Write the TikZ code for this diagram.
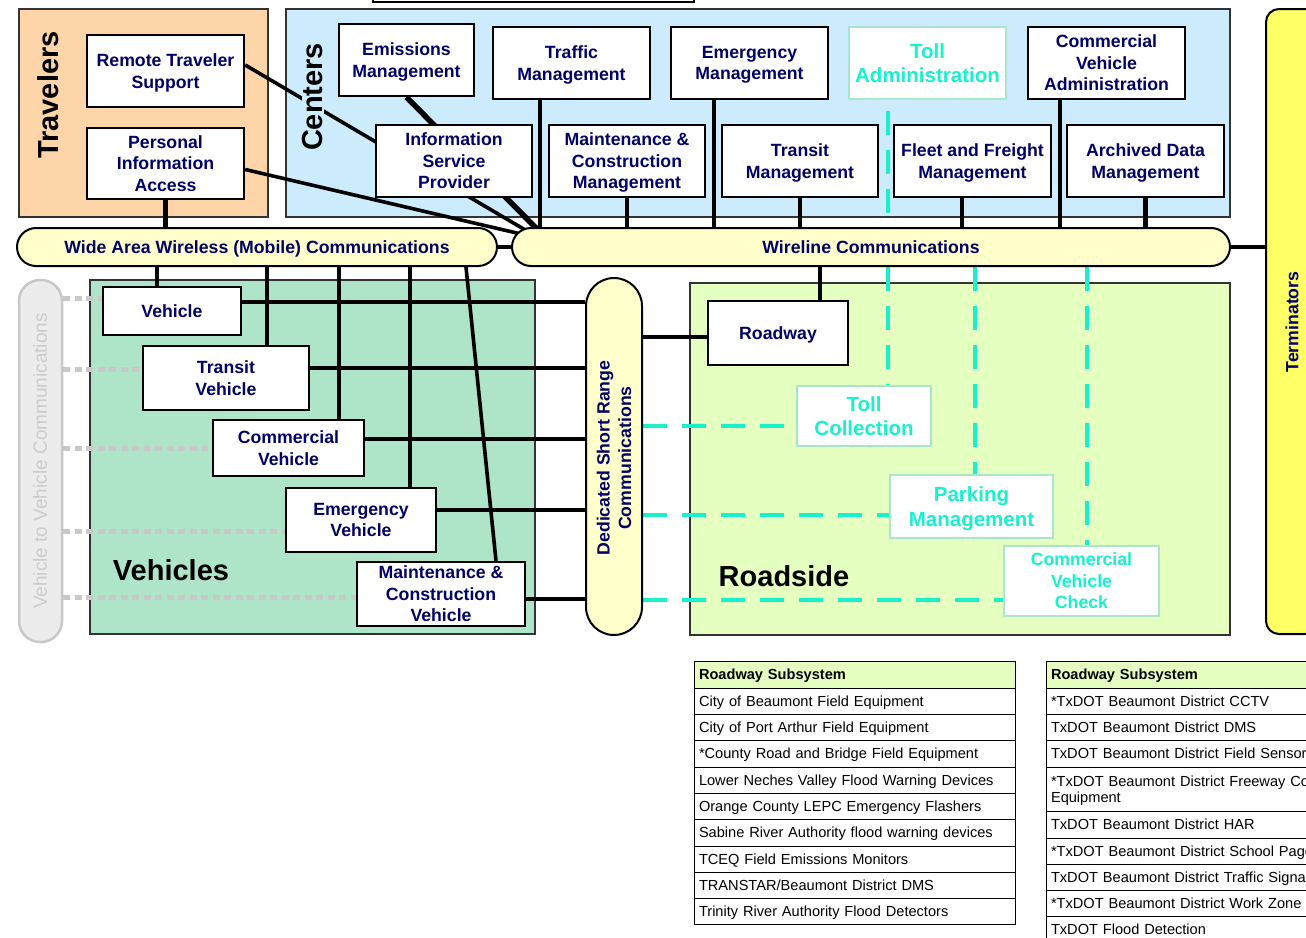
\documentclass[tikz,border=0pt]{standalone}
\usepackage{fontspec}
\setmainfont{Liberation Sans}
\pgfdeclarelayer{regions}
\pgfdeclarelayer{lines}
\pgfsetlayers{regions,lines,main}
\definecolor{navy}{RGB}{0,0,102}
\definecolor{travfill}{RGB}{253,213,168}
\definecolor{centfill}{RGB}{204,235,252}
\definecolor{vehfill}{RGB}{174,228,200}
\definecolor{roadfill}{RGB}{229,255,192}
\definecolor{barfill}{RGB}{255,255,204}
\definecolor{termfill}{RGB}{255,255,102}
\definecolor{turq}{RGB}{25,240,204}
\definecolor{turqborder}{RGB}{170,230,205}
\definecolor{vvfill}{RGB}{236,236,236}
\definecolor{vvline}{RGB}{200,200,200}
\definecolor{vvtext}{RGB}{204,204,204}
\newcommand\Bx[7][]{\node[#1, minimum width={(#5)-(#3)}, minimum height={(#6)-(#4)}] (#2) at ({((#3)+(#5))/2},{((#4)+(#6))/2}) {#7};}
\newcommand\Trow[7][]{\node[tabrow,#1, minimum height={(#6)-(#4)}] (#2) at ({((#3)+(#5))/2},{((#4)+(#6))/2}) {#7};}
\begin{document}
\begin{tikzpicture}[x=1pt,y=-1pt,
  box/.style={draw=black, line width=2.4pt, fill=white, text=navy, font=\bfseries\fontsize{17.7}{21.5}\selectfont, align=center, inner sep=0pt, text depth=0pt},
  tbox/.style={box, draw=turqborder, text=turq, font=\bfseries\fontsize{20.5}{24.5}\selectfont},
  tsbox/.style={box, draw=turqborder, text=turq},
  region/.style={draw=black!80, line width=2pt},
  bar/.style={draw=black, line width=2pt, fill=barfill, rounded corners=19pt, text=navy, font=\bfseries\fontsize{17.7}{21.5}\selectfont, align=center, inner sep=0pt, text depth=0pt},
  lbl/.style={text=navy, font=\bfseries\fontsize{17.7}{21.5}\selectfont, align=center, inner sep=0pt},
  bigtitle/.style={font=\bfseries\fontsize{29}{34}\selectfont, text=black, inner sep=1pt},
  link/.style={line width=4.2pt, black},
  tlink/.style={line width=4.5pt, turq, dash pattern=on 24pt off 15pt},
  vlink/.style={line width=5pt, vvline, dash pattern=on 7pt off 4.5pt},
  tabrow/.style={draw=black, line width=1pt, fill=white, font=\fontsize{14.6}{16}\selectfont, align=left, inner xsep=5pt, inner ysep=0pt, text depth=0pt},
  tab1/.style={text width=311pt},
  tab2/.style={text width=444pt},
  thead/.style={fill=roadfill, font=\bfseries\fontsize{14.6}{16}\selectfont}
]
\useasboundingbox (0,0) rectangle (1306,937);
\clip (0,0) rectangle (1306,937);

\begin{pgfonlayer}{regions}
\Bx[region, fill=travfill]{trav}{19}{9}{268}{217}{}
\Bx[region, fill=centfill]{cent}{286}{9}{1230}{217}{}
\Bx[region, fill=vehfill]{vehs}{90}{280}{535}{634}{}
\Bx[region, fill=roadfill]{roads}{690}{283}{1230}{635}{}
\end{pgfonlayer}

\Bx[draw=black, line width=1.5pt, fill=white]{topbox}{373}{-20}{694}{2}{}

% Travelers
\node[bigtitle, rotate=90] (travlbl) at (48,95) {Travelers};
\Bx[box]{rts}{87}{35}{244}{107}{Remote Traveler\\Support}
\Bx[box]{pia}{87}{128}{244}{199}{Personal\\Information\\Access}

% Centers
\node[bigtitle, rotate=90, fill=centfill] (centlbl) at (313,97) {Centers};
\Bx[box]{em}{339}{24}{474}{96}{Emissions\\Management}
\Bx[box]{tm}{493}{27}{650}{99}{Traffic\\Management}
\Bx[box]{emm}{671}{27}{828}{99}{Emergency\\Management}
\Bx[tbox]{ta}{849}{27}{1006}{99}{Toll\\Administration}
\Bx[box]{cva}{1028}{27}{1185}{99}{Commercial\\Vehicle\\Administration}
\Bx[box]{isp}{376}{125}{532}{197}{Information\\Service\\Provider}
\Bx[box]{mcm}{549}{125}{705}{197}{Maintenance \&\\Construction\\Management}
\Bx[box]{trm}{722}{125}{878}{197}{Transit\\Management}
\Bx[box]{ffm}{894}{125}{1051}{197}{Fleet and Freight\\Management}
\Bx[box]{adm}{1067}{125}{1224}{197}{Archived Data\\Management}

% Communication bars
\Bx[bar]{waw}{17}{228}{497}{266}{Wide Area Wireless (Mobile) Communications}
\Bx[bar]{wl}{512}{228}{1230}{266}{Wireline Communications}
\Bx[bar, rounded corners=28pt]{dsrc}{586}{278}{642}{635}{}
\node[lbl, rotate=90] (dsrclbl) at (614,458) {Dedicated Short Range\\Communications};
\Bx[draw=vvline, line width=2.5pt, fill=vvfill, rounded corners=21pt]{v2v}{19}{280}{62}{642}{}
\node[rotate=90, text=vvtext, font=\fontsize{19}{22}\selectfont, inner sep=0pt] (v2vlbl) at (40,461) {Vehicle to Vehicle Communications};
\Bx[draw=black, line width=2pt, fill=termfill, rounded corners=13pt]{term}{1266}{9}{1318}{634}{}
\node[lbl, rotate=90] (termlbl) at (1292,322) {Terminators};

% Vehicles
\Bx[box]{veh}{103}{287}{241}{335}{Vehicle}
\Bx[box]{tv}{143}{346}{309}{410}{Transit\\Vehicle}
\Bx[box]{cv}{213}{420}{364}{476}{Commercial\\Vehicle}
\Bx[box]{ev}{286}{488}{436}{552}{Emergency\\Vehicle}
\Bx[box]{mcv}{357}{562}{525}{626}{Maintenance \&\\Construction\\Vehicle}
\node[bigtitle] (vehlbl) at (171,570) {Vehicles};

% Roadside
\Bx[box]{rw}{708}{301}{848}{365}{Roadway}
\Bx[tbox]{tc}{797}{386}{931}{446}{Toll\\Collection}
\Bx[tbox]{pm}{890}{475}{1053}{538}{Parking\\Management}
\Bx[tsbox]{cvc}{1004}{546}{1159}{616}{Commercial\\Vehicle\\Check}
\node[bigtitle] (roadlbl) at (784,576) {Roadside};

% Table 1
\Trow[tab1,thead]{ta0}{694}{661}{1015}{688}{Roadway Subsystem}
\Trow[tab1]{ta1}{694}{688}{1015}{714}{City of Beaumont Field Equipment}
\Trow[tab1]{ta2}{694}{714}{1015}{740}{City of Port Arthur Field Equipment}
\Trow[tab1]{ta3}{694}{740}{1015}{767}{*County Road and Bridge Field Equipment}
\Trow[tab1]{ta4}{694}{767}{1015}{793}{Lower Neches Valley Flood Warning Devices}
\Trow[tab1]{ta5}{694}{793}{1015}{819}{Orange County LEPC Emergency Flashers}
\Trow[tab1]{ta6}{694}{819}{1015}{846}{Sabine River Authority flood warning devices}
\Trow[tab1]{ta7}{694}{846}{1015}{872}{TCEQ Field Emissions Monitors}
\Trow[tab1]{ta8}{694}{872}{1015}{898}{TRANSTAR/Beaumont District DMS}
\Trow[tab1]{ta9}{694}{898}{1015}{924}{Trinity River Authority Flood Detectors}

% Table 2
\Trow[tab2,thead]{tb0}{1046}{661}{1500}{688}{Roadway Subsystem}
\Trow[tab2]{tb1}{1046}{688}{1500}{714}{*TxDOT Beaumont District CCTV}
\Trow[tab2]{tb2}{1046}{714}{1500}{740}{TxDOT Beaumont District DMS}
\Trow[tab2]{tb3}{1046}{740}{1500}{767}{TxDOT Beaumont District Field Sensors}
\Trow[tab2, text depth=16pt]{tb4}{1046}{767}{1500}{811}{*TxDOT Beaumont District Freeway Control\\Equipment}
\Trow[tab2]{tb5}{1046}{811}{1500}{838}{TxDOT Beaumont District HAR}
\Trow[tab2]{tb6}{1046}{838}{1500}{864}{*TxDOT Beaumont District School Pagers}
\Trow[tab2]{tb7}{1046}{864}{1500}{890}{TxDOT Beaumont District Traffic Signals}
\Trow[tab2]{tb8}{1046}{890}{1500}{916}{*TxDOT Beaumont District Work Zone Equipment}
\Trow[tab2]{tb9}{1046}{916}{1500}{942}{TxDOT Flood Detection}

\begin{pgfonlayer}{lines}
% converging lines to wireline
\draw[link, line width=3.6pt] ([yshift=6pt]rts.east) -- ([shift={(16,4)}]wl.north west);
\draw[link, line width=5.5pt] (em.south) -- ([shift={(27,3)}]wl.north west);
\draw[link, line width=3.6pt] ([yshift=-6pt]pia.east) -- ([shift={(10,7)}]wl.north west);
% centers to wireline
\draw[link] ([xshift=-31.5pt]tm.south) -- ([xshift=-31.5pt]tm.south |- wl.north);
\draw[link] (mcm.south) -- (mcm.south |- wl.north);
\draw[link] ([xshift=-35.5pt]emm.south) -- ([xshift=-35.5pt]emm.south |- wl.north);
\draw[link] (trm.south) -- (trm.south |- wl.north);
\draw[link] ([xshift=-10.5pt]ffm.south) -- ([xshift=-10.5pt]ffm.south |- wl.north);
\draw[link] ([xshift=-46.5pt]cva.south) -- ([xshift=-46.5pt]cva.south |- wl.north);
\draw[link] (adm.south) -- (adm.south |- wl.north);
\draw[tlink] ([shift={(-39.5,11)}]ta.south) -- ([xshift=-39.5pt]ta.south |- cent.south);
% bars
\draw[link] (pia.south) -- (pia.south |- waw.north);
\draw[link] (waw.east) -- (wl.west);
\draw[link] (wl.east) -- (wl.east -| term.west);
% roadside
\draw[link] ([xshift=42pt]rw.north |- wl.south) -- ([xshift=42pt]rw.north);
\draw[link] ([yshift=-4pt]rw.west -| dsrc.east) -- ([yshift=-4pt]rw.west);
\draw[tlink] ([xshift=24pt]tc.north |- wl.south) -- ([xshift=24pt]tc.north);
\draw[tlink] ([xshift=3.5pt]pm.north |- wl.south) -- ([xshift=3.5pt]pm.north);
\draw[tlink] ([xshift=5.5pt]cvc.north |- wl.south) -- ([xshift=5.5pt]cvc.north);
\draw[tlink] ([yshift=-10pt]tc.west -| dsrc.east) -- ([yshift=-10pt]tc.west);
\draw[tlink] ([yshift=-8.5pt]pm.west -| dsrc.east) -- ([yshift=-8.5pt]pm.west);
\draw[tlink] ([yshift=-19pt]cvc.west -| dsrc.east) -- ([yshift=-19pt]cvc.west);
% vehicles from wide area wireless
\draw[link] ([xshift=-15pt]veh.north |- waw.south) -- ([xshift=-15pt]veh.north);
\draw[link] ([xshift=41pt]tv.north |- waw.south) -- ([xshift=41pt]tv.north);
\draw[link] ([xshift=50.5pt]cv.north |- waw.south) -- ([xshift=50.5pt]cv.north);
\draw[link] ([xshift=49pt]ev.north |- waw.south) -- ([xshift=49pt]ev.north);
\draw[link, line width=3.6pt] ([xshift=209pt]waw.south) -- ([xshift=55pt]mcv.north);
% vehicles to DSRC
\draw[link] ([yshift=9pt]veh.east) -- ([yshift=9pt]veh.east -| dsrc.west);
\draw[link] ([yshift=10pt]tv.east) -- ([yshift=10pt]tv.east -| dsrc.west);
\draw[link] ([yshift=9pt]cv.east) -- ([yshift=9pt]cv.east -| dsrc.west);
\draw[link] ([yshift=10pt]ev.east) -- ([yshift=10pt]ev.east -| dsrc.west);
\draw[link] ([yshift=-5pt]mcv.east) -- ([yshift=-5pt]mcv.east -| dsrc.west);
% vehicle to vehicle
\draw[vlink] ([yshift=13pt]veh.west -| v2v.east) -- ([yshift=13pt]veh.west);
\draw[vlink] ([yshift=9pt]tv.west -| v2v.east) -- ([yshift=9pt]tv.west);
\draw[vlink] (cv.west -| v2v.east) -- (cv.west);
\draw[vlink] ([yshift=-11pt]ev.west -| v2v.east) -- ([yshift=-11pt]ev.west);
\draw[vlink] ([yshift=-3pt]mcv.west -| v2v.east) -- ([yshift=-3pt]mcv.west);
\end{pgfonlayer}
\end{tikzpicture}
\end{document}
